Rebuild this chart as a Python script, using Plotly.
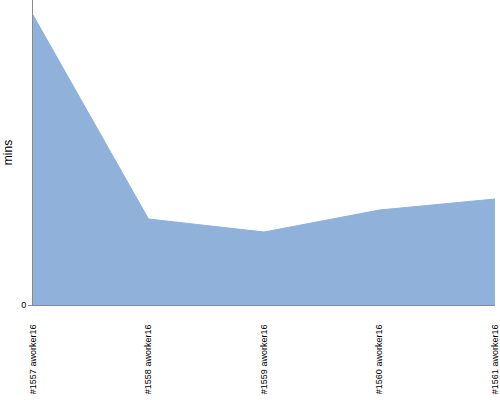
import plotly.graph_objects as go

# Data
builds = ['#1557 aworker16', '#1558 aworker16', '#1559 aworker16',
          '#1560 aworker16', '#1561 aworker16']
mins = [29.0, 8.6, 7.3, 9.5, 10.6]

fig = go.Figure()
fig.add_trace(go.Scatter(
    x=builds, y=mins,
    mode='lines',
    fill='tozeroy',
    fillcolor='#8FB1DA',
    line=dict(color='#8FB1DA', width=1),
    hoverinfo='x+y',
))

fig.update_layout(
    width=500, height=400,
    margin=dict(l=33, r=5, t=0, b=95),
    plot_bgcolor='white', paper_bgcolor='white',
    showlegend=False,
    font=dict(family='Liberation Sans', size=10, color='black'),
    xaxis=dict(
        range=[0, 4],
        automargin=False,
        tickangle=-90,
        showgrid=False,
        showline=True, linecolor='#8a8a8a', linewidth=1,
        ticks='', tickfont=dict(size=9),
        ticklabelstandoff=15,
    ),
    yaxis=dict(
        range=[0, 30.5],
        automargin=False,
        tickvals=[0], ticktext=['0'],
        showgrid=False, zeroline=False,
        showline=True, linecolor='#8a8a8a', linewidth=1,
        ticks='outside', ticklen=4, tickcolor='#8a8a8a',
        title=dict(text='mins', standoff=5, font=dict(size=12)),
        tickfont=dict(size=9),
    ),
)

# page has a default 8px body margin, drop it so the chart sits at 0,0
fig.write_html("out.html", config={'displayModeBar': False},
               post_script="document.body.style.margin='0px';")
